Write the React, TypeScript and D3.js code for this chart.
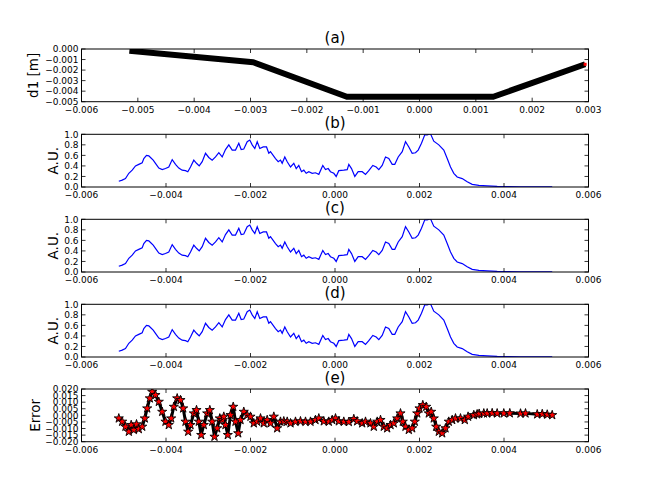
import React from 'react';
import * as d3 from 'd3';

// ---------- data ----------
const panelTitles = ['(a)', '(b)', '(c)', '(d)', '(e)'];
const yLabels = ['d1 [m]', 'A.U.', 'A.U.', 'A.U.', 'Error'];

// panel (a): profile d1
const d1X = [-0.00515, -0.00295, -0.00129, 0.00131, 0.00294];
const d1Y = [-0.00017, -0.00126, -0.00453, -0.00453, -0.00145];

// panels (b)-(d): normalised signal (x in units of 1e-3)
const signalXmm = [
  -5.117, -5.037, -4.959, -4.88, -4.8, -4.722, -4.644, -4.563, -4.525, -4.462, -4.407, -4.367,
  -4.303, -4.249, -4.17, -4.09, -4.012, -3.934, -3.853, -3.775, -3.697, -3.617, -3.538, -3.484,
  -3.42, -3.342, -3.278, -3.214, -3.143, -3.065, -2.987, -2.907, -2.828, -2.75, -2.67, -2.592,
  -2.513, -2.433, -2.355, -2.277, -2.22, -2.159, -2.078, -2.017, -1.96, -1.898, -1.841, -1.78,
  -1.699, -1.621, -1.567, -1.527, -1.408, -1.344, -1.29, -1.25, -1.188, -1.131, -1.053, -0.975,
  -0.918, -0.857, -0.793, -0.738, -0.682, -0.62, -0.54, -0.462, -0.383, -0.289, -0.225, -0.161,
  -0.107, -0.028, 0.028, 0.09, 0.208, 0.289, 0.327, 0.391, 0.469, 0.549, 0.644, 0.722, 0.8,
  0.895, 0.975, 1.037, 1.117, 1.195, 1.273, 1.354, 1.415, 1.496, 1.591, 1.669, 1.747, 1.827,
  1.905, 1.969, 2.047, 2.125, 2.182, 2.26, 2.338, 2.457, 2.575, 2.656, 2.734, 2.812, 2.892,
  3.011, 3.129, 3.247, 3.404, 3.602, 3.839, 4.076, 4.391, 4.786, 5.141,
];
const signalY = [
  0.11, 0.13, 0.16, 0.26, 0.32, 0.4, 0.43, 0.46, 0.54, 0.6, 0.59, 0.56,
  0.51, 0.45, 0.36, 0.33, 0.35, 0.38, 0.52, 0.43, 0.36, 0.32, 0.31, 0.29,
  0.38, 0.51, 0.45, 0.4, 0.48, 0.64, 0.56, 0.51, 0.57, 0.65, 0.57, 0.71,
  0.8, 0.7, 0.7, 0.83, 0.71, 0.72, 0.86, 0.89, 0.8, 0.73, 0.86, 0.73,
  0.76, 0.76, 0.64, 0.67, 0.54, 0.48, 0.51, 0.45, 0.57, 0.48, 0.38, 0.45,
  0.35, 0.41, 0.29, 0.32, 0.26, 0.29, 0.26, 0.27, 0.24, 0.41, 0.33, 0.35,
  0.29, 0.26, 0.2, 0.31, 0.32, 0.33, 0.43, 0.35, 0.2, 0.29, 0.29, 0.24, 0.31,
  0.41, 0.38, 0.33, 0.41, 0.57, 0.54, 0.43, 0.43, 0.57, 0.67, 0.86, 0.76, 0.64,
  0.65, 0.7, 0.83, 0.99, 0.99, 1.01, 0.87, 0.8, 0.7, 0.54, 0.38, 0.26, 0.19,
  0.16, 0.1, 0.05, 0.03, 0.02, 0.01, 0.008, 0.005, 0.003, 0.002,
];

// panel (e): error (x in units of 1e-3)
const errXmm = [
  -5.117, -5.037, -4.959, -4.88, -4.824, -4.762, -4.698, -4.644, -4.563, -4.502, -4.445, -4.383,
  -4.327, -4.249, -4.17, -4.09, -4.012, -3.934, -3.877, -3.815, -3.735, -3.657, -3.593, -3.538,
  -3.475, -3.42, -3.342, -3.278, -3.224, -3.167, -3.105, -3.025, -2.963, -2.907, -2.852, -2.788,
  -2.727, -2.67, -2.632, -2.592, -2.537, -2.473, -2.409, -2.355, -2.291, -2.237, -2.159, -2.078,
  -2.0, -1.922, -1.841, -1.763, -1.685, -1.605, -1.527, -1.448, -1.368, -1.29, -1.212, -1.131,
  -1.053, -0.935, -0.817, -0.698, -0.58, -0.462, -0.383, -0.265, -0.147, -0.066, 0.012, 0.09,
  0.208, 0.327, 0.445, 0.525, 0.644, 0.722, 0.84, 0.918, 0.999, 1.077, 1.155, 1.235, 1.314,
  1.392, 1.472, 1.55, 1.605, 1.669, 1.747, 1.827, 1.889, 1.946, 2.0, 2.078, 2.159, 2.22,
  2.277, 2.338, 2.395, 2.457, 2.537, 2.615, 2.693, 2.774, 2.852, 2.97, 3.072, 3.15, 3.285,
  3.364, 3.412, 3.522, 3.602, 3.72, 3.838, 3.995, 4.137, 4.391, 4.509, 4.786, 4.905, 5.023, 5.141,
];
const errY = [
  -0.0023, -0.0048, -0.0086, -0.0124, -0.0073, -0.011, -0.0068, -0.0104, -0.0086, -0.0023, 0.0053, 0.0129,
  0.0179, 0.0154, 0.0103, 0.0027, -0.0048, -0.0073, -0.0023, 0.0065, 0.0129, 0.0116, 0.0053, -0.0048,
  -0.0124, -0.0073, 0.0015, 0.004, -0.0048, -0.0149, -0.0073, 0.0015, 0.004, -0.0048, -0.0162, -0.0098,
  -0.0023, -0.0035, -0.001, -0.0073, -0.0149, 0.0002, 0.0065, -0.0048, -0.0136, -0.0035, 0.0027, 0.0002,
  -0.001, -0.006, -0.0048, -0.0023, -0.006, -0.0035, -0.006, -0.001, -0.0098, -0.0048, -0.0045, -0.0048,
  -0.006, -0.0048, -0.0045, -0.0048, -0.0048, -0.0035, -0.0023, -0.0045, -0.0048, -0.0035, -0.0023, -0.0045,
  -0.0048, -0.005, -0.0028, -0.0045, -0.006, -0.0048, -0.006, -0.0086, -0.0048, -0.0035, -0.0086, -0.0098, -0.0073,
  -0.006, -0.0023, 0.0015, -0.0048, -0.0086, -0.011, -0.0098, -0.0048, 0.0015, 0.0053, 0.0078, 0.0065, 0.0015,
  0.0027, -0.0023, -0.0086, -0.0124, -0.0136, -0.0098, -0.0048, -0.0035, -0.0023, -0.0023, -0.0035, -0.001, 0.0002,
  0.0008, 0.0012, 0.0015, 0.0015, 0.0017, 0.0015, 0.0015, 0.0016, 0.0014, 0.0015, 0.0008, 0.001, 0.0006, 0.0002,
];

const xTicksA = [-0.006, -0.005, -0.004, -0.003, -0.002, -0.001, 0, 0.001, 0.002, 0.003];
const yTicksA = [0, -0.001, -0.002, -0.003, -0.004, -0.005];
const xTicksB = [-0.006, -0.004, -0.002, 0, 0.002, 0.004, 0.006];
const yTicksB = [0, 0.2, 0.4, 0.6, 0.8, 1.0];
const yTicksE = [-0.02, -0.015, -0.01, -0.005, 0, 0.005, 0.01, 0.015, 0.02];

// ---------- layout ----------
const W = 654;
const H = 491;
const AX_L = 81.5;
const AX_R = 588.5;
const AX_H = 52.7;
const TOPS = [49, 134.3, 219.3, 304.3, 389];
const LABEL_X = [33, 52.7, 52.7, 52.7, 35];
const FONT = "'DejaVu Sans', sans-serif";

type PanelProps = {
  idx: number;
  xDomain: [number, number];
  yDomain: [number, number];
  xTicks: number[];
  yTicks: number[];
  xFmt: (v: number) => string;
  yFmt: (v: number) => string;
  render: (x: d3.ScaleLinear<number, number>, y: d3.ScaleLinear<number, number>) => React.ReactNode;
};

function Panel({ idx, xDomain, yDomain, xTicks, yTicks, xFmt, yFmt, render }: PanelProps) {
  const top = TOPS[idx];
  const bottom = top + AX_H;
  const x = d3.scaleLinear().domain(xDomain).range([AX_L, AX_R]);
  const y = d3.scaleLinear().domain(yDomain).range([bottom, top]);
  const clipId = `clip-${idx}`;
  const TL = 4;
  return (
    <g>
      <defs>
        <clipPath id={clipId}>
          <rect x={AX_L} y={top} width={AX_R - AX_L} height={AX_H} />
        </clipPath>
      </defs>
      <g clipPath={`url(#${clipId})`}>{render(x, y)}</g>
      {xTicks.map((t, i) => (
        <g key={`xt${i}`}>
          <line x1={x(t)} x2={x(t)} y1={bottom} y2={bottom - TL} stroke="#000" strokeWidth={0.8} />
          <line x1={x(t)} x2={x(t)} y1={top} y2={top + TL} stroke="#000" strokeWidth={0.8} />
          <text x={x(t)} y={bottom + 11.4} textAnchor="middle" fontSize={9} fontFamily={FONT} fill="#000">
            {xFmt(t)}
          </text>
        </g>
      ))}
      {yTicks.map((t, i) => (
        <g key={`yt${i}`}>
          <line x1={AX_L} x2={AX_L + TL} y1={y(t)} y2={y(t)} stroke="#000" strokeWidth={0.8} />
          <line x1={AX_R} x2={AX_R - TL} y1={y(t)} y2={y(t)} stroke="#000" strokeWidth={0.8} />
          <text x={AX_L - 3} y={y(t)} dy="0.36em" textAnchor="end" fontSize={9} fontFamily={FONT} fill="#000">
            {yFmt(t)}
          </text>
        </g>
      ))}
      <rect x={AX_L} y={top} width={AX_R - AX_L} height={AX_H} fill="none" stroke="#000" strokeWidth={1} />
      <text x={(AX_L + AX_R) / 2} y={top - 6.5} textAnchor="middle" fontSize={15} fontFamily={FONT} fill="#000">
        {panelTitles[idx]}
      </text>
      <text
        transform={`translate(${LABEL_X[idx]},${top + AX_H / 2}) rotate(-90)`}
        dy="0.36em"
        textAnchor="middle"
        fontSize={13.5}
        fontFamily={FONT}
        fill="#000"
      >
        {yLabels[idx]}
      </text>
    </g>
  );
}

export default function App() {
  const f3 = d3.format('.3f');
  const f1 = d3.format('.1f');
  const signal = signalXmm.map((v, i) => [v * 1e-3, signalY[i]] as [number, number]);
  const err = errXmm.map((v, i) => [v * 1e-3, errY[i]] as [number, number]);
  const d1 = d1X.map((v, i) => [v, d1Y[i]] as [number, number]);
  const star = d3.symbol(d3.symbolStar, 26)() as string;

  const signalPanel = (idx: number) => (
    <Panel
      key={idx}
      idx={idx}
      xDomain={[-0.006, 0.006]}
      yDomain={[0, 1]}
      xTicks={xTicksB}
      yTicks={yTicksB}
      xFmt={f3}
      yFmt={f1}
      render={(x, y) => {
        const line = d3.line<[number, number]>().x((d) => x(d[0])).y((d) => y(d[1]));
        return <path d={line(signal) as string} fill="none" stroke="#0000ff" strokeWidth={1.2} />;
      }}
    />
  );

  return (
    <svg width={W} height={H} style={{ position: 'absolute', left: 0, top: 0, background: '#fff' }}>
      <rect width={W} height={H} fill="#fff" />
      <Panel
        idx={0}
        xDomain={[-0.006, 0.003]}
        yDomain={[-0.005, 0]}
        xTicks={xTicksA}
        yTicks={yTicksA}
        xFmt={f3}
        yFmt={f3}
        render={(x, y) => {
          const line = d3.line<[number, number]>().x((d) => x(d[0])).y((d) => y(d[1]));
          const last = d1[d1.length - 1];
          return (
            <g>
              <path d={line(d1) as string} fill="none" stroke="#000" strokeWidth={6} strokeLinejoin="round" />
              <rect x={x(last[0]) - 1.5} y={y(last[1]) - 1.5} width={3} height={3} fill="#ff0000" />
            </g>
          );
        }}
      />
      {signalPanel(1)}
      {signalPanel(2)}
      {signalPanel(3)}
      <Panel
        idx={4}
        xDomain={[-0.006, 0.006]}
        yDomain={[-0.02, 0.02]}
        xTicks={xTicksB}
        yTicks={yTicksE}
        xFmt={f3}
        yFmt={f3}
        render={(x, y) => {
          const line = d3.line<[number, number]>().x((d) => x(d[0])).y((d) => y(d[1]));
          return (
            <g>
              <path d={line(err) as string} fill="none" stroke="#000" strokeWidth={3} strokeLinejoin="round" />
              {err.map((d, i) => (
                <path
                  key={i}
                  d={star}
                  transform={`translate(${x(d[0])},${y(d[1])})`}
                  fill="#ff0000"
                  stroke="#000"
                  strokeWidth={0.9}
                />
              ))}
            </g>
          );
        }}
      />
    </svg>
  );
}
